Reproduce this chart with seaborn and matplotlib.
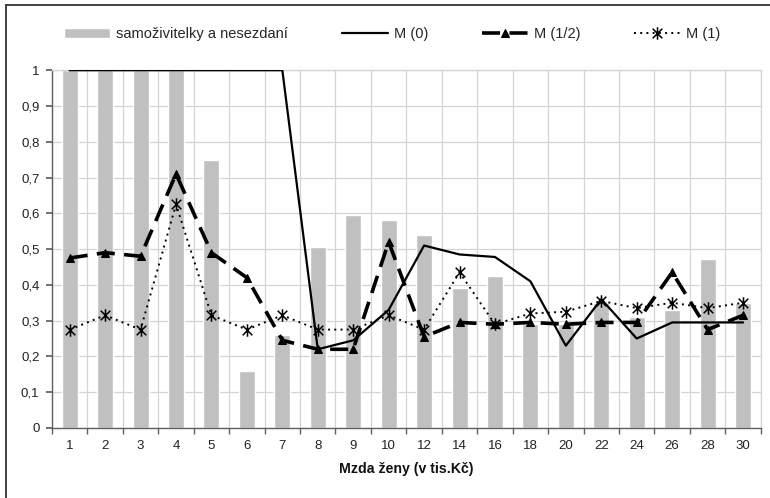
import numpy as np
import pandas as pd
import seaborn as sns
import matplotlib.pyplot as plt
from matplotlib.lines import Line2D
from matplotlib.path import Path
from matplotlib.ticker import FuncFormatter, FixedLocator

sns.set_theme(style="white")
plt.rcParams['font.family'] = ['Liberation Sans', 'DejaVu Sans']

mzda = ['1', '2', '3', '4', '5', '6', '7', '8', '9', '10',
        '12', '14', '16', '18', '20', '22', '24', '26', '28', '30']
samozivitelky = [1.0, 1.0, 1.0, 1.0, 0.75, 0.16, 0.26, 0.505, 0.595, 0.58,
                 0.54, 0.39, 0.425, 0.29, 0.29, 0.35, 0.31, 0.33, 0.472, 0.35]
m0 = [1.0, 1.0, 1.0, 1.0, 1.0, 1.0, 1.0, 0.22, 0.245, 0.33,
      0.51, 0.485, 0.478, 0.41, 0.23, 0.36, 0.25, 0.295, 0.295, 0.295]
m_half = [0.475, 0.49, 0.48, 0.71, 0.49, 0.42, 0.245, 0.22, 0.22, 0.52,
          0.255, 0.295, 0.29, 0.295, 0.29, 0.295, 0.295, 0.435, 0.275, 0.315]
m1 = [0.275, 0.315, 0.275, 0.625, 0.315, 0.275, 0.315, 0.275, 0.275, 0.315,
      0.275, 0.435, 0.29, 0.32, 0.325, 0.355, 0.335, 0.35, 0.335, 0.35]

df = pd.DataFrame({'mzda': mzda, 'bar': samozivitelky})
pos = np.arange(len(mzda))

# excel-like star marker: X plus vertical stroke
star = Path([(-1, -1), (1, 1), (-1, 1), (1, -1), (0, -1.3), (0, 1.3)],
            [Path.MOVETO, Path.LINETO, Path.MOVETO, Path.LINETO, Path.MOVETO, Path.LINETO])

fig = plt.figure(figsize=(7.7, 4.98), dpi=100)
ax = fig.add_axes([0.0675, 0.1406, 0.9205, 0.7184])

sns.barplot(data=df, x='mzda', y='bar', order=mzda, color='#c0c0c0', width=0.45,
            saturation=1, ax=ax, label='samoživitelky a nesezdaní', zorder=2)
sns.lineplot(x=pos, y=m0, color='black', linewidth=1.6, ax=ax, label='M (0)', zorder=3)
sns.lineplot(x=pos, y=m_half, color='black', linewidth=2.6, dashes=False, ax=ax,
             label='M (1/2)', marker='^', markersize=6, markeredgecolor='black', zorder=4)
ax.lines[-1].set_dashes((5, 2.6))
sns.lineplot(x=pos, y=m1, color='black', linewidth=1.4, ax=ax, label='M (1)',
             marker=star, markersize=9, markeredgewidth=1.1, markerfacecolor='none',
             markeredgecolor='black', zorder=4)
ax.lines[-1].set_dashes((1, 2.2))

ax.set_xlim(-0.5, len(mzda) - 0.5)
ax.set_ylim(0, 1)
ax.set_yticks(np.arange(0, 1.01, 0.1))
ax.yaxis.set_major_formatter(FuncFormatter(lambda v, p: ('%g' % round(v, 1)).replace('.', ',')))
ax.xaxis.set_minor_locator(FixedLocator(np.arange(-0.5, len(mzda), 1.0)))
ax.grid(True, axis='y', color='#d4d4d4', linewidth=0.9, zorder=0)
ax.grid(True, axis='x', which='minor', color='#d4d4d4', linewidth=0.9, zorder=0)
ax.set_axisbelow(True)

for s in ['top', 'right']:
    ax.spines[s].set_color('#d4d4d4')
    ax.spines[s].set_linewidth(0.9)
for s in ['left', 'bottom']:
    ax.spines[s].set_color('#606060')
    ax.spines[s].set_linewidth(1.0)

ax.tick_params(axis='x', which='major', length=0, labelsize=9.5, colors='#222222', pad=9)
ax.tick_params(axis='x', which='minor', length=4, color='#606060', direction='out', bottom=True)
ax.tick_params(axis='y', length=4, color='#606060', direction='out', left=True,
               labelsize=9.5, colors='#222222', pad=5)
ax.set_xlabel('Mzda ženy (v tis.Kč)', fontsize=10.2, fontweight='bold', labelpad=7, color='#111111')
ax.set_ylabel('')

# bar entry first, like the original legend
handles, labels = ax.get_legend_handles_labels()
idx = labels.index('samoživitelky a nesezdaní')
order = [idx] + [i for i in range(len(labels)) if i != idx]
ax.legend([handles[i] for i in order], [labels[i] for i in order], ncol=4, frameon=False,
          loc='center', bbox_to_anchor=(0.48, 1.1), fontsize=10.5, handlelength=3.15,
          columnspacing=3.7, handletextpad=0.4)

fig.add_artist(Line2D([0.008, 0.008], [0, 0.99], transform=fig.transFigure, color='#333333', linewidth=1.3))
fig.add_artist(Line2D([0.008, 1.0], [0.99, 0.99], transform=fig.transFigure, color='#333333', linewidth=1.3))

fig.savefig('out.png', dpi=100, facecolor='white')
